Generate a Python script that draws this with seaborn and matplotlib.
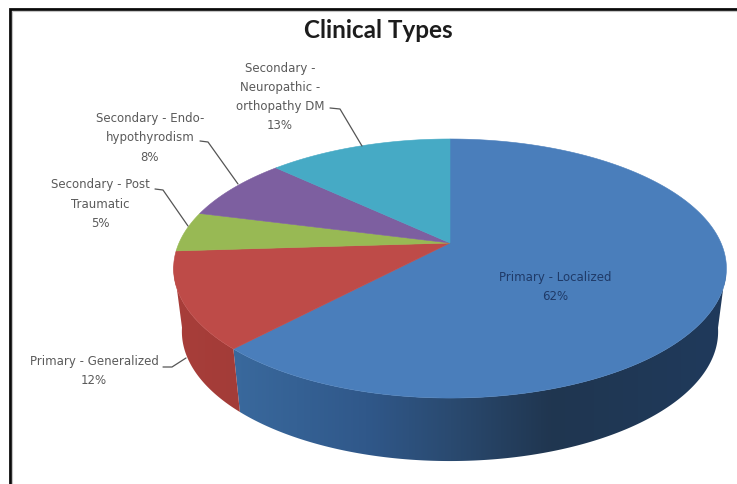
import numpy as np
import matplotlib
matplotlib.use("Agg")
import matplotlib.pyplot as plt
from matplotlib.patches import Polygon
from matplotlib.colors import LinearSegmentedColormap
import seaborn as sns

# Chart content
chart_title = "Clinical Types"
slice_names = [
    "Primary - Localized",
    "Primary - Generalized",
    "Secondary - Post\nTraumatic",
    "Secondary - Endo-\nhypothyrodism",
    "Secondary -\nNeuropathic -\northopathy DM",
]
slice_percent = [62, 12, 5, 8, 13]
slice_colors = ["#4a7ebb", "#be4b48", "#98b954", "#7d5fa0", "#46aac5"]

# Label placement: centre of each text block, in canvas pixels
label_centres = [(555, 287), (94, 371), (100, 204), (150, 138), (280, 97)]
label_colors = ["#1f3a68", "#5a5a5a", "#5a5a5a", "#5a5a5a", "#5a5a5a"]
leader_paths = [
    None,
    [(163, 367), (172, 367), (186, 358)],
    [(155, 189), (163, 190), (188, 226)],
    [(200, 141), (208, 142), (238, 184)],
    [(330, 108), (340, 109), (362, 146)],
]

# Perspective of the disc: apex position, radii and foreshortening
APEX_X, APEX_Y = 450.0, 243.0
RADIUS_X, RADIUS_Y = 271.0, 124.5
TILT = 0.197
RIM_CENTRE_Y = 268.5
DEPTH = 63.0
FLOOR_SCALE = 0.97


def project(clockwise_fraction):
    """Map a fraction of the turn, clockwise from twelve o'clock, onto the tilted top face."""
    theta = 2 * np.pi * np.asarray(clockwise_fraction, dtype=float)
    u, v = np.sin(theta), np.cos(theta)
    w = 1 + TILT * v
    return APEX_X + RADIUS_X * u / w, APEX_Y - RADIUS_Y * v / w


def drop(x, y):
    """Corresponding point on the lower rim of the disc."""
    return APEX_X + (x - APEX_X) * FLOOR_SCALE, y + DEPTH


sns.set_theme(style="white")
fig, ax = plt.subplots(figsize=(7.37, 4.84), dpi=100)
ax.set_position([0, 0, 1, 1])

bounds = np.concatenate([[0], np.cumsum(slice_percent)]) / sum(slice_percent)
palette = sns.color_palette(slice_colors)

# Side wall of each visible slice: a horizontal gradient clipped to the wall outline
wall_shades = {
    0: (226, 726, [(0.0, "#3a6a9e"), (0.28, "#30588a"), (0.45, "#2a4a70"), (0.65, "#203650"), (1.0, "#1f3a5c")]),
    1: (170, 240, [(0.0, "#a83e3a"), (1.0, "#a33c38")]),
}
ramp = np.linspace(0, 1, 256).reshape(1, -1)
for idx, (x0, x1, stops) in wall_shades.items():
    fractions = np.linspace(bounds[idx], bounds[idx + 1], 500)
    xs, ys = project(fractions)
    keep = ys >= RIM_CENTRE_Y - 4
    xs, ys = xs[keep], ys[keep]
    bx, by = drop(xs, ys)
    outline = Polygon(np.c_[np.r_[xs, bx[::-1]], np.r_[ys, by[::-1]]], closed=True,
                      transform=ax.transData, facecolor="none", edgecolor="none")
    ax.add_patch(outline)
    image = ax.imshow(ramp, extent=(x0, x1, 480, 230), aspect="auto", zorder=2,
                      cmap=LinearSegmentedColormap.from_list(f"wall{idx}", stops))
    image.set_clip_path(outline)

# Top face
for idx, color in enumerate(palette):
    fractions = np.linspace(bounds[idx], bounds[idx + 1], 300)
    xs, ys = project(fractions)
    ax.fill(np.r_[APEX_X, xs], np.r_[APEX_Y, ys], color=color, lw=0.4, zorder=3)

# Value labels and their leader lines
for name, pct, centre, tone, path in zip(slice_names, slice_percent, label_centres, label_colors, leader_paths):
    ax.text(centre[0], centre[1], f"{name}\n{pct}%", ha="center", va="center",
            fontsize=8.5, color=tone, family="DejaVu Sans", linespacing=1.62, zorder=5)
    if path:
        px, py = zip(*path)
        ax.plot(px, py, color="#555555", lw=0.9, zorder=4)

ax.text(378, 31, chart_title, ha="center", va="center", fontsize=17.5,
        fontweight="bold", family="Lato", color="#1c1c1c")

# Dark frame along the top and left edges, with its soft inner line
ax.plot([10, 10, 737], [484, 8.5, 8.5], color="#0a0a0a", lw=2.0, solid_joinstyle="miter", zorder=6)
ax.plot([12.2, 12.2, 737], [484, 10.7, 10.7], color="#c4c4c4", lw=0.8, solid_joinstyle="miter", zorder=6)

ax.set_xlim(0, 737)
ax.set_ylim(484, 0)
ax.axis("off")

fig.savefig("out.png", dpi=100)
